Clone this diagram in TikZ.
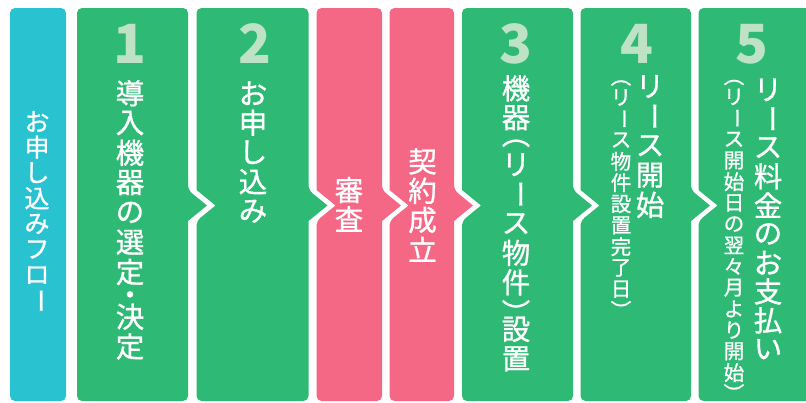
\documentclass[tikz,border=0pt]{standalone}
\usepackage{fontspec}
\usepackage{graphicx}
\usepackage{xcolor}
\usepackage{tikz}
\usetikzlibrary{positioning}
\setmainfont{Noto Sans CJK JP}
\newfontfamily\jpmed{Noto Sans CJK JP}[FakeBold=1]
\definecolor{flowblue}{HTML}{28C2D0}
\definecolor{flowgreen}{HTML}{2EB975}
\definecolor{flowpink}{HTML}{F46886}
\definecolor{numgreen}{HTML}{BEE2C6}
% glyphs for vertical writing (boxes trimmed to the ink)
\newcommand{\vl}{\rotatebox[origin=c]{-90}{ー}}
\newcommand{\vpl}{\raisebox{0em}[.28em][.02em]{︵}}
\newcommand{\vpr}{\raisebox{-.5em}[.28em][.02em]{︶}}
\newcommand{\vdot}{\raisebox{-.38em}[.1em][.1em]{・}}
\tikzset{
  vchar/.style={text=white, inner sep=0pt, anchor=center},
  vbig/.style={vchar, font=\jpmed\fontsize{28.5}{28.5}\selectfont},
  vsmall/.style={vchar, font=\jpmed\fontsize{20.5}{20.5}\selectfont},
  vtitle/.style={vchar, font=\jpmed\fontsize{25}{25}\selectfont},
  stepnum/.style={text=numgreen, inner sep=0pt, anchor=base, font=\bfseries\fontsize{54}{54}\selectfont}
}
% box from x=#1 to x=#2, colour #3, notch on left (#4), arrow on right (#5)
\newcommand{\FlowBox}[5]{%
  \ifnum#5=1 \def\rightside{-- ({#2},190) [sharp corners] -- ({#2+19},205.5) -- ({#2},221) [rounded corners=5pt]}\else\def\rightside{}\fi
  \ifnum#4=1 \def\leftside{-- ({#1},221) [sharp corners] -- ({#1+19},205.5) -- ({#1},190) [rounded corners=5pt]}\else\def\leftside{}\fi
  \fill[#3, rounded corners=5pt] ({(#1+#2)/2},8) -- ({#2},8) \rightside
    -- ({#2},401) -- ({#1},401) \leftside -- ({#1},8) -- cycle;
}
% vertical label: name, x, top, pitch, style, list of glyph/offset
\newcommand{\VLabel}[6]{%
  \foreach \g/\u [count=\i] in {#6}{%
    \node[#5] (#1-\i) at (#2,{#3+\u*#4}) {\g};
  }%
}

\begin{document}
\begin{tikzpicture}[x=1pt,y=-1pt]
  \useasboundingbox (0,0) rectangle (806,402);
  \clip (0,0) rectangle (806,402);
  % boxes
  \FlowBox{10}{66}{flowblue}{0}{0}
  \FlowBox{77}{188}{flowgreen}{0}{1}
  \FlowBox{196.5}{308.5}{flowgreen}{1}{1}
  \FlowBox{316.5}{382}{flowpink}{1}{1}
  \FlowBox{389.5}{454}{flowpink}{1}{1}
  \FlowBox{462}{573}{flowgreen}{1}{1}
  \FlowBox{580.5}{691}{flowgreen}{1}{1}
  \FlowBox{698.5}{820}{flowgreen}{1}{0}
  % step numbers
  \node[stepnum] (n1) at (130,63) {1};
  \node[stepnum] (n2) at (254.5,63) {2};
  \node[stepnum] (n3) at (516,63) {3};
  \node[stepnum] (n4) at (637,63) {4};
  \node[stepnum] (n5) at (751.5,63) {5};
  % labels
  \VLabel{flow}{37}{108.7}{25.6}{vtitle}{お/.5,申/1.5,し/2.5,込/3.5,み/4.5,フ/5.5,ロ/6.5,\vl/7.5}
  \VLabel{select}{130}{78.3}{29.8}{vbig}{導/.5,入/1.5,機/2.5,器/3.5,の/4.5,選/5.5,定/6.5,\vdot/7.25,決/8,定/9}
  \VLabel{apply}{253}{78.5}{29.5}{vbig}{お/.5,申/1.5,し/2.5,込/3.5,み/4.5}
  \VLabel{review}{349}{175.5}{29}{vbig}{審/.5,査/1.5}
  \VLabel{contract}{422.5}{146.8}{29.3}{vbig}{契/.5,約/1.5,成/2.5,立/3.5}
  \VLabel{install}{516}{73.6}{29.4}{vbig}{機/.5,器/1.5,\vpl/2.3,リ/3.1,\vl/4.1,ス/5.1,物/6.1,件/7.1,\vpr/7.9,設/8.7,置/9.7}
  \VLabel{start}{650}{71.7}{29.6}{vbig}{リ/.5,\vl/1.5,ス/2.5,開/3.5,始/4.5}
  \VLabel{startnote}{621}{76.2}{21.3}{vsmall}{\vpl/.25,リ/1,\vl/2,ス/3,物/4,件/5,設/6,置/7,完/8,了/9,日/10,\vpr/10.75}
  \VLabel{pay}{768}{75.5}{28.8}{vbig}{リ/.5,\vl/1.5,ス/2.5,料/3.5,金/4.5,の/5.5,お/6.5,支/7.5,払/8.5,い/9.5}
  \VLabel{paynote}{734}{75.7}{21.2}{vsmall}{\vpl/.25,リ/1,\vl/2,ス/3,開/4,始/5,日/6,の/7,翌/8,々/9,月/10,よ/11,り/12,開/13,始/14,\vpr/14.75}
\end{tikzpicture}
\end{document}
